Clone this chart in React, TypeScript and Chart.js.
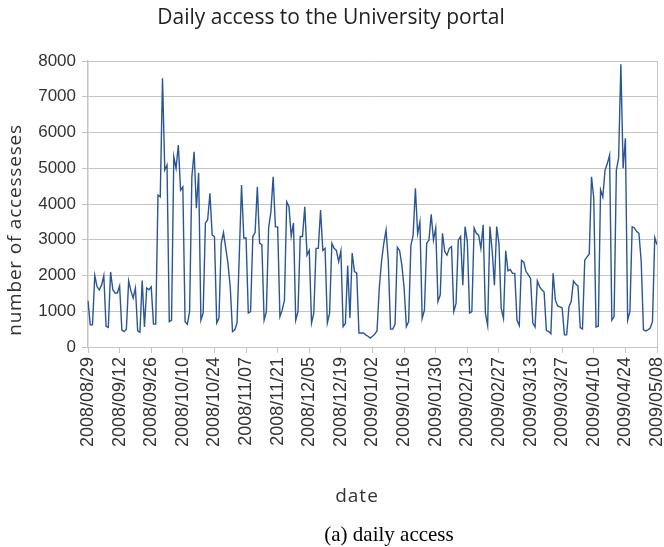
import { useEffect, useRef } from 'react';
import { Chart, registerables } from 'chart.js';

Chart.register(...registerables);

// ---- data ----
const CHART_TITLE = 'Daily access to the University portal';
const Y_TITLE = 'number of accesseses';
const X_TITLE = 'date';
const CAPTION = '(a) daily access';
const START_YEAR = 2008;
const START_MONTH = 8;
const START_DAY = 29;
const TICK_EVERY_DAYS = 14;
const Y_MIN = 0;
const Y_MAX = 8000;
const Y_STEP = 1000;

// one value per day, from 2008/08/29 to 2009/05/08 (rows of 7 days, starting on a Friday)
const ACCESS = [
  1290, 620, 620, 2000, 1690, 1600, 1730,
  2000, 580, 550, 2100, 1600, 1510, 1510,
  1710, 475, 430, 500, 1850, 1570, 1370,
  1650, 450, 410, 1860, 560, 1650, 1600,
  1680, 640, 640, 4250, 4200, 7520, 4950,
  5090, 710, 750, 5320, 5000, 5650, 4390,
  4480, 710, 640, 990, 4760, 5460, 3880,
  4870, 750, 950, 3470, 3560, 4300, 3130,
  3090, 670, 810, 2900, 3200, 2770, 2330,
  1680, 430, 480, 670, 2570, 4530, 3050,
  3050, 950, 990, 3090, 3200, 4480, 2900,
  2860, 750, 990, 3330, 3780, 4760, 3360,
  3360, 850, 1030, 1310, 4060, 3930, 3100,
  3470, 750, 990, 3090, 3090, 3920, 2570,
  2700, 670, 950, 2760, 2760, 3830, 2700,
  2760, 670, 950, 2900, 2760, 2700, 2390,
  2690, 570, 660, 2280, 810, 2630, 2110,
  2070, 390, 390, 390, 340, 300, 250,
  300, 360, 450, 1650, 2400, 2900, 3270,
  2400, 500, 500, 640, 2790, 2700, 2290,
  1650, 570, 710, 2840, 3130, 4440, 3170,
  3500, 800, 1030, 2900, 2990, 3710, 2990,
  3330, 1270, 1460, 3180, 2670, 2570, 2760,
  2810, 990, 1220, 2990, 3090, 1730, 3370,
  2950, 950, 990, 3330, 3180, 3130, 2760,
  3420, 950, 600, 3370, 2700, 1730, 3370,
  2900, 1080, 800, 2690, 2130, 2170, 2060,
  2060, 750, 600, 2420, 2370, 2110, 2020,
  1920, 670, 560, 1850, 1690, 1600, 1540,
  460, 440, 370, 2060, 1310, 1150, 1120,
  1090, 340, 340, 1120, 1270, 1850, 1760,
  1710, 540, 500, 2430, 2520, 2600, 4760,
  4160, 560, 580, 4400, 4200, 4950, 5130,
  5370, 750, 850, 4950, 5290, 7910, 5000,
  5840, 750, 990, 3360, 3330, 3230, 3180,
  2400, 480, 450, 480, 530, 710, 3060,
  2860,
];

function pad2(n: number) {
  return n < 10 ? '0' + n : String(n);
}

function makeDates(count: number): string[] {
  const out: string[] = [];
  const t0 = Date.UTC(START_YEAR, START_MONTH - 1, START_DAY);
  for (let i = 0; i < count; i++) {
    const d = new Date(t0 + i * 86400000);
    out.push(`${d.getUTCFullYear()}/${pad2(d.getUTCMonth() + 1)}/${pad2(d.getUTCDate())}`);
  }
  return out;
}

const DATES = makeDates(ACCESS.length);

// ---- style ----
const W = 664;
const H = 547;
const LINE_COLOR = '#2a5694';
const GRID_COLOR = '#c4c4c4';
const TEXT_COLOR = '#333333';
const AREA_LEFT = 88;
const AREA_TOP = 61;
const AREA_RIGHT = 657;
const AREA_BOTTOM = 347;

const textPlugin = {
  id: 'texts',
  afterDraw(chart: any) {
    const { ctx, chartArea } = chart;
    ctx.save();
    // right border
    ctx.strokeStyle = GRID_COLOR;
    ctx.lineWidth = 1;
    ctx.beginPath();
    ctx.moveTo(Math.round(chartArea.right) + 0.5, chartArea.top);
    ctx.lineTo(Math.round(chartArea.right) + 0.5, chartArea.bottom + 6);
    ctx.stroke();

    ctx.fillStyle = '#222222';
    ctx.textAlign = 'center';
    ctx.textBaseline = 'middle';
    ctx.font = '21px "Open Sans"';
    ctx.fillText(CHART_TITLE, 331, 18);

    ctx.fillStyle = TEXT_COLOR;
    ctx.font = '19px "Open Sans"';
    try { (ctx as any).letterSpacing = '1px'; } catch (e) {}
    ctx.fillText(X_TITLE, 357, 497);

    ctx.save();
    ctx.translate(16, 230);
    ctx.rotate(-Math.PI / 2);
    ctx.font = '19px "Open Sans"';
    try { (ctx as any).letterSpacing = '0.8px'; } catch (e) {}
    ctx.fillText(Y_TITLE, 0, 0);
    ctx.restore();
    try { (ctx as any).letterSpacing = '0px'; } catch (e) {}

    ctx.fillStyle = '#000000';
    ctx.font = '21px "Liberation Serif"';
    ctx.fillText(CAPTION, 389, 535);
    ctx.restore();
  },
};

export default function App() {
  const ref = useRef<HTMLCanvasElement | null>(null);

  useEffect(() => {
    if (!ref.current) return;
    const chart = new Chart(ref.current, {
      type: 'line',
      data: {
        labels: DATES,
        datasets: [
          {
            data: ACCESS,
            borderColor: LINE_COLOR,
            borderWidth: 1.4,
            pointRadius: 0,
            tension: 0,
            fill: false,
          },
        ],
      },
      options: {
        responsive: false,
        animation: false,
        devicePixelRatio: 1,
        layout: { padding: { left: 0, top: AREA_TOP, right: W - AREA_RIGHT, bottom: 0 } },
        plugins: {
          legend: { display: false },
          title: { display: false },
          tooltip: { enabled: false },
        },
        scales: {
          x: {
            type: 'category',
            offset: false,
            grid: {
              display: true,
              drawOnChartArea: false,
              drawTicks: true,
              tickLength: 6,
              color: GRID_COLOR,
              lineWidth: 1,
            },
            border: { display: true, color: GRID_COLOR, width: 1 },
            ticks: {
              autoSkip: false,
              maxRotation: 90,
              minRotation: 90,
              padding: 4,
              color: TEXT_COLOR,
              font: { family: '"Liberation Sans", Arial', size: 18 },
              callback: (_v: any, i: number) => (i % TICK_EVERY_DAYS === 0 ? DATES[i] : null),
            },
            afterFit: (s: any) => {
              s.height = H - AREA_BOTTOM;
              s.paddingLeft = 0;
              s.paddingRight = 0;
            },
          },
          y: {
            min: Y_MIN,
            max: Y_MAX,
            ticks: {
              stepSize: Y_STEP,
              padding: 6,
              color: TEXT_COLOR,
              font: { family: '"Liberation Sans", Arial', size: 17 },
              callback: (v: any) => String(v),
            },
            grid: { color: GRID_COLOR, tickLength: 6, lineWidth: 1 },
            border: { display: true, color: GRID_COLOR, width: 1.5 },
            afterFit: (s: any) => {
              s.width = AREA_LEFT;
            },
          },
        },
      },
      plugins: [textPlugin],
    });
    return () => chart.destroy();
  }, []);

  return (
    <div style={{ position: 'absolute', left: 0, top: 0, width: W, height: H, background: '#ffffff' }}>
      <canvas ref={ref} width={W} height={H} style={{ width: W, height: H, display: 'block' }} />
    </div>
  );
}
